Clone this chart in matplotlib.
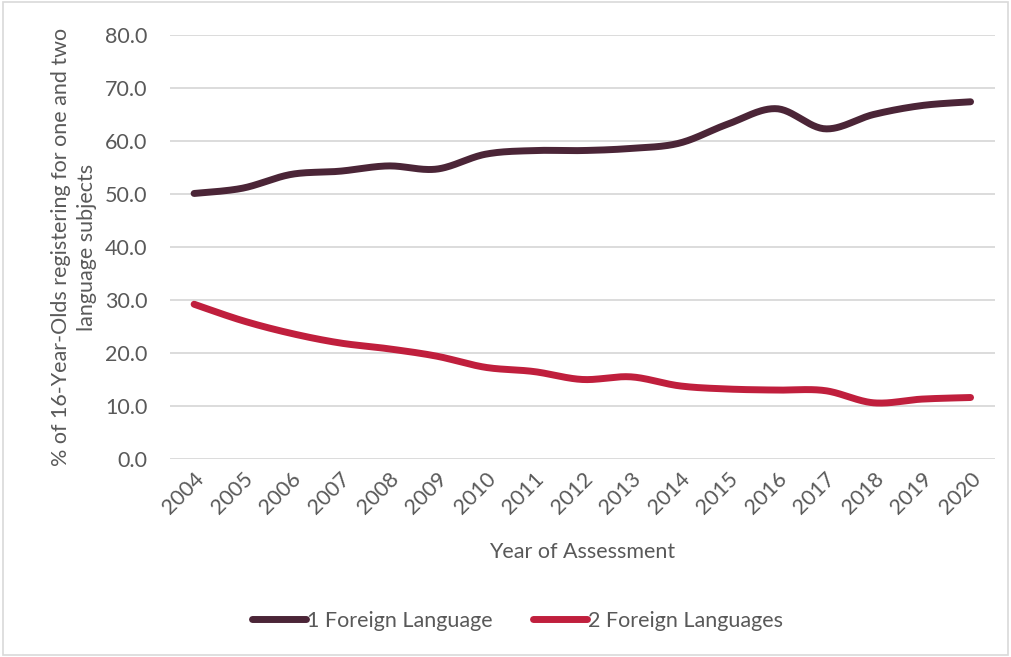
import numpy as np
import matplotlib.pyplot as plt
from matplotlib.patches import Rectangle

plt.rcParams['font.family'] = ['Lato', 'DejaVu Sans']

# --- Data ---
years = [str(y) for y in range(2004, 2021)]
one_lang = [50.1, 51.1, 53.7, 54.3, 55.3, 54.7, 57.5, 58.2, 58.2, 58.6, 59.6,
            63.2, 66.1, 62.3, 65.0, 66.7, 67.4]
two_lang = [29.2, 26.1, 23.7, 21.9, 20.8, 19.4, 17.3, 16.5, 15.0, 15.5, 13.8,
            13.2, 13.0, 12.9, 10.6, 11.3, 11.6]
y_ticks = [0, 10, 20, 30, 40, 50, 60, 70, 80]

TEXT = '#595959'
GRID = '#D9D9D9'
C1 = '#4B2537'
C2 = '#C01F3D'
FS = 15.5


def smooth(xs, ys, n=30):
    """Excel-style smoothed line (Catmull-Rom as cubic Bezier)"""
    xs = np.asarray(xs, float)
    ys = np.asarray(ys, float)
    px, py = [], []
    for i in range(len(xs) - 1):
        i0 = max(i - 1, 0)
        i3 = min(i + 2, len(xs) - 1)
        p0 = np.array([xs[i], ys[i]])
        p3 = np.array([xs[i + 1], ys[i + 1]])
        c1 = p0 + (p3 - np.array([xs[i0], ys[i0]])) / 6
        c2 = p3 - (np.array([xs[i3], ys[i3]]) - p0) / 6
        t = np.linspace(0, 1, n)[:, None]
        seg = ((1 - t) ** 3) * p0 + 3 * ((1 - t) ** 2) * t * c1 \
            + 3 * (1 - t) * t ** 2 * c2 + t ** 3 * p3
        px.extend(seg[:, 0])
        py.extend(seg[:, 1])
    return px, py


fig = plt.figure(figsize=(10.11, 6.57), dpi=100)
ax = fig.add_axes([0.168, 0.3014, 0.816, 0.6453])

x = np.arange(len(years))
for vals, col, lab in [(one_lang, C1, '1 Foreign Language'),
                       (two_lang, C2, '2 Foreign Languages')]:
    sx, sy = smooth(x, vals)
    ax.plot(sx, sy, color=col, lw=5, solid_capstyle='round', label=lab, zorder=3)

ax.set_xlim(-0.5, len(years) - 0.5)
ax.set_ylim(0, 80)
ax.set_yticks(y_ticks)
ax.set_yticklabels([f'{v:.1f}' for v in y_ticks])
ax.set_xticks(x)
ax.set_xticklabels(years, rotation=45, ha='right', va='top', rotation_mode='anchor')
ax.tick_params(axis='both', length=0, labelsize=FS, colors=TEXT)
ax.tick_params(axis='y', pad=16)
ax.tick_params(axis='x', pad=7)
ax.yaxis.grid(True, color=GRID, lw=1.3)
ax.set_axisbelow(True)
for s in ax.spines.values():
    s.set_visible(False)

ax.set_xlabel('Year of Assessment', fontsize=FS, color=TEXT, labelpad=17)
ax.set_ylabel('% of 16-Year-Olds registering for one and two\nlanguage subjects',
              fontsize=FS, color=TEXT, labelpad=6, linespacing=1.35)

leg = fig.legend(loc='center', bbox_to_anchor=(0.512, 0.055), ncol=2, frameon=False,
                 fontsize=FS, handlelength=2.5, handletextpad=0.05, columnspacing=1.9)
for t in leg.get_texts():
    t.set_color(TEXT)

fig.patches.append(Rectangle((0.003, 0.003), 0.994, 0.994, transform=fig.transFigure,
                             fill=False, edgecolor=GRID, lw=1.2))

fig.savefig('out.png', dpi=100)
